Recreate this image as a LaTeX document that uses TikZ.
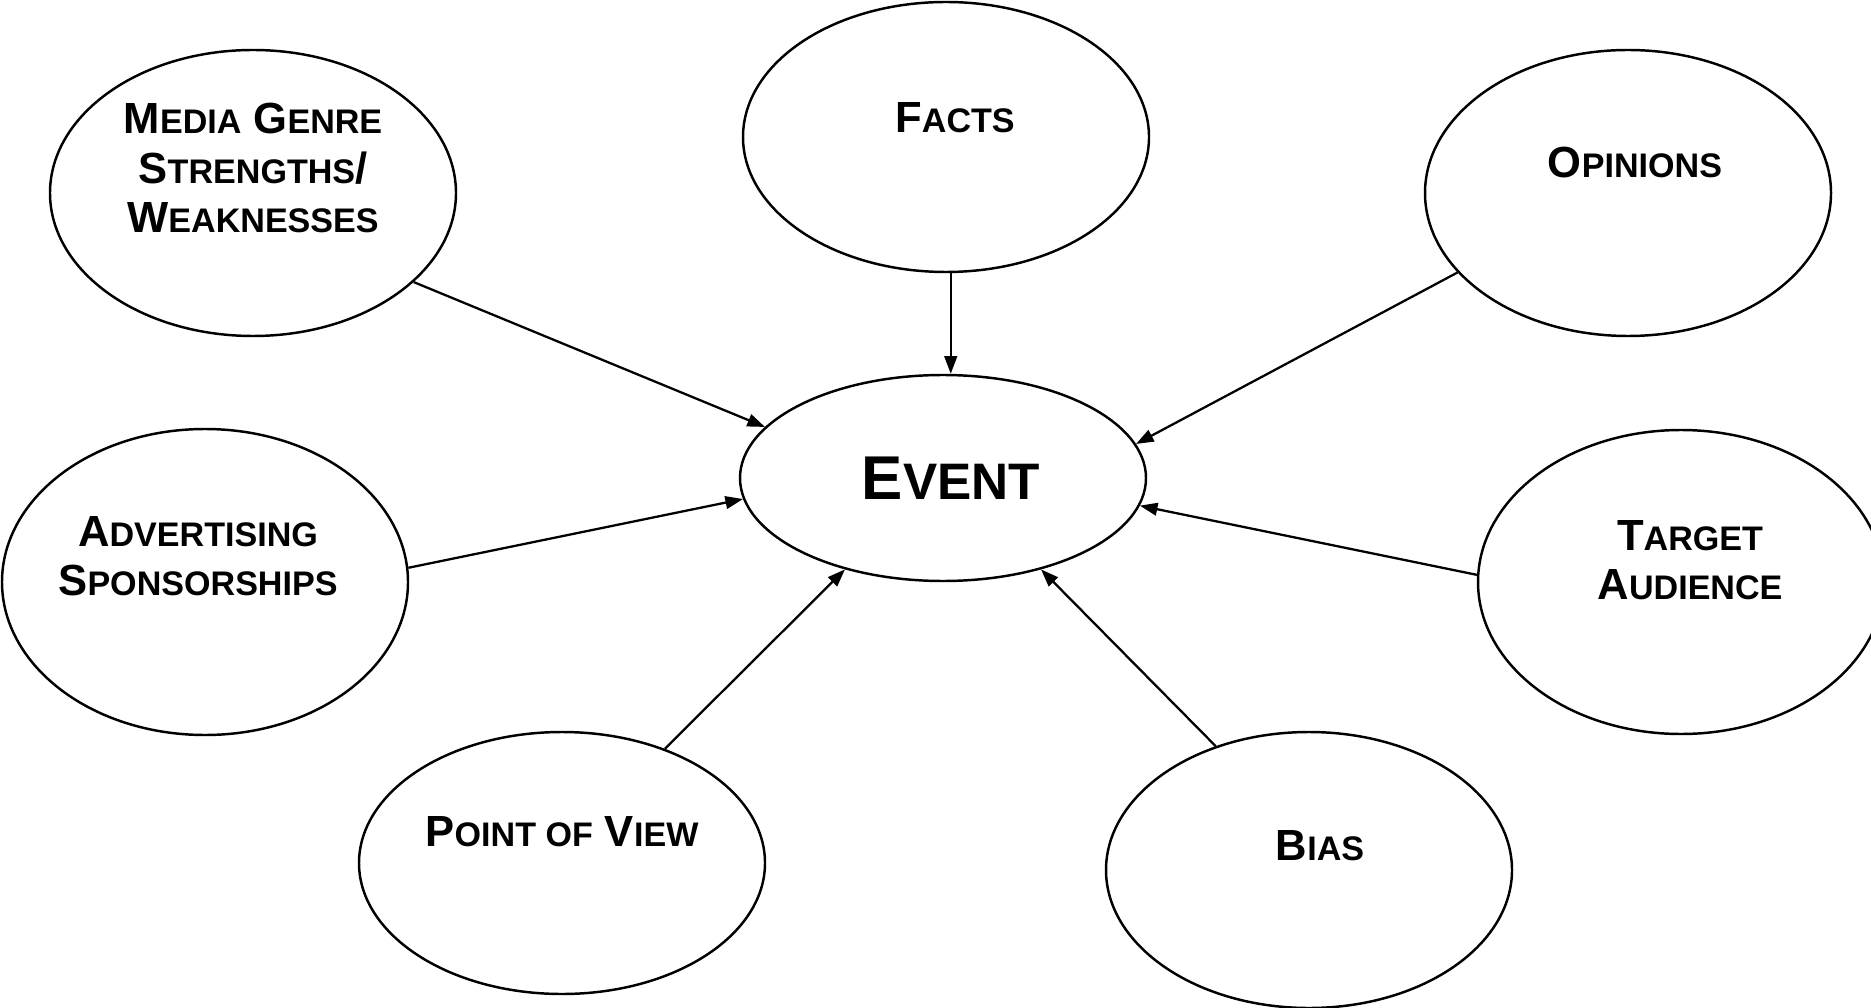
\documentclass[tikz,border=0pt]{standalone}
\usepackage{fontspec}
\setmainfont{Liberation Sans}
\usetikzlibrary{shapes.geometric}
\usetikzlibrary{arrows.meta}
\newcommand{\fsc}[1]{{\fontsize{9.7pt}{9.7pt}\selectfont #1}}
\newcommand{\bigfsc}[1]{{\fontsize{14.6pt}{14.6pt}\selectfont #1}}
\tikzset{
  bubble/.style={draw, ellipse, line width=0.7pt, minimum width=4.06cm, inner sep=0pt},
  tag/.style={font=\fontsize{12.4pt}{14pt}\selectfont\bfseries, align=center, inner sep=0pt},
}

\begin{document}
\begin{tikzpicture}[>={Triangle[length=5pt,width=3.6pt]}]
\useasboundingbox (0,0) rectangle (18.71,-10.08);
\node[bubble, minimum height=2.06cm, label={[tag, font=\fontsize{17.6pt}{20pt}\selectfont\bfseries, xshift=0.08cm]center:{E\bigfsc{VENT}}}] (event) at (9.43,-4.78) {};
\node[bubble, minimum height=2.86cm, label={[tag, yshift=0.25cm]center:{M\fsc{EDIA} G\fsc{ENRE}\\ S\fsc{TRENGTHS}/\\ W\fsc{EAKNESSES}}}] (media) at (2.53,-1.93) {};
\node[bubble, minimum height=2.70cm, label={[tag, xshift=0.09cm, yshift=0.19cm]center:{F\fsc{ACTS}}}] (facts) at (9.46,-1.37) {};
\node[bubble, minimum height=2.86cm, label={[tag, xshift=0.07cm, yshift=0.30cm]center:{O\fsc{PINIONS}}}] (opinions) at (16.28,-1.93) {};
\node[bubble, minimum height=3.06cm, label={[tag, xshift=-0.07cm, yshift=0.26cm]center:{A\fsc{DVERTISING}\\ S\fsc{PONSORSHIPS}}}] (advert) at (2.05,-5.82) {};
\node[bubble, minimum height=3.04cm, label={[tag, xshift=0.09cm, yshift=0.22cm]center:{T\fsc{ARGET}\\ A\fsc{UDIENCE}}}] (target) at (16.81,-5.82) {};
\node[bubble, minimum height=2.62cm, label={[tag, yshift=0.31cm]center:{P\fsc{OINT OF} V\fsc{IEW}}}] (pov) at (5.62,-8.63) {};
\node[bubble, minimum height=2.76cm, label={[tag, xshift=0.11cm, yshift=0.24cm]center:{B\fsc{IAS}}}] (bias) at (13.09,-8.70) {};
% spokes into the event
\draw[->, line width=0.65pt] (media.-29) -- (event.164);
\draw[->, line width=0.65pt] (facts.-88) -- (facts.-88 |- event.north);
\draw[->, line width=0.65pt] (opinions.205) -- (event.10);
\draw[->, line width=0.65pt] (advert.4) -- (event.186);
\draw[->, line width=0.65pt] (target.178) -- (event.352);
\draw[->, line width=0.65pt] (pov.48) -- (event.223);
\draw[->, line width=0.65pt] (bias.127) -- (event.317);
\end{tikzpicture}
\end{document}
